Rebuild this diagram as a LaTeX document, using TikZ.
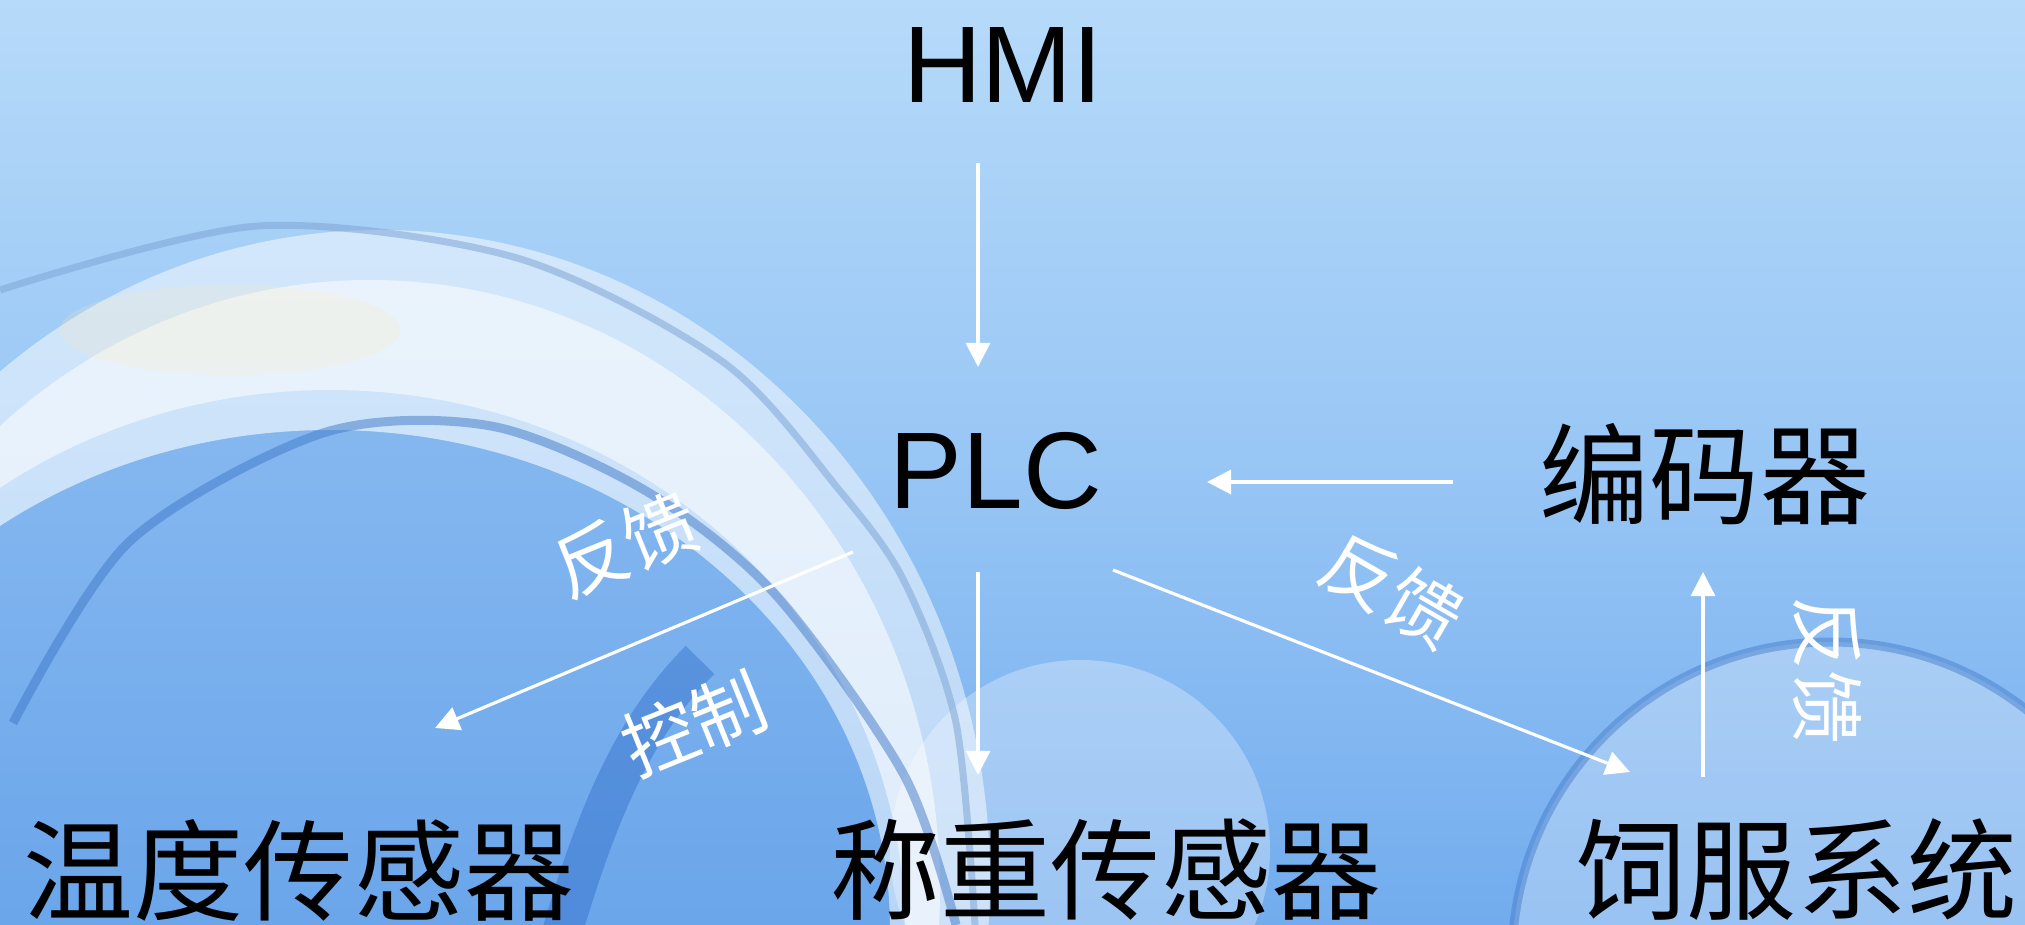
\documentclass[tikz,border=0pt]{standalone}
\usepackage{fontspec}
\setmainfont{Liberation Sans}
\newfontfamily\cjk{Noto Sans CJK SC}
\usetikzlibrary{arrows.meta}
\definecolor{bgtop}{HTML}{B6DAF9}
\definecolor{bgmid}{HTML}{98C6F5}
\definecolor{bgbot}{HTML}{72ACEE}
\definecolor{innerc}{HTML}{5E9BE6}
\definecolor{ringc}{HTML}{3F78C8}
\definecolor{deepc}{HTML}{1E5CC0}
\definecolor{edgec}{HTML}{7FA6D6}
\begin{document}
\begin{tikzpicture}[x=0.01cm,y=-0.01cm,
  lat/.style={font=\fontsize{31pt}{36pt}\selectfont, text=black, inner sep=0pt},
  big/.style={font=\cjk\fontsize{31.3pt}{36pt}\selectfont, text=black, inner sep=0pt},
  small/.style={font=\cjk\fontsize{21pt}{24pt}\selectfont, text=white, inner sep=0pt},
  link/.style={draw=white, line width=0.9pt, -{Triangle[length=0.24cm,width=0.24cm]}}]
\useasboundingbox (0,0) rectangle (2025,925);
% ---------- background ----------
\begin{scope}
\clip (0,0) rectangle (2025,925);
\shade[top color=bgtop, bottom color=bgbot, middle color=bgmid] (0,0) rectangle (2025,925);
% right bubble
\fill[white, opacity=0.28] (1830,960) circle[radius=318];
\draw[ringc, opacity=0.45, line width=0.09cm] (1830,960) circle[radius=318];
% bottom-centre light blob
\fill[white, opacity=0.3] (1080,850) ellipse[x radius=190, y radius=190];
% darker inside of the big bubble
\fill[innerc, opacity=0.35] (330,930) ellipse[x radius=560, y radius=500];
% big white band on the left
\fill[white, opacity=0.5, even odd rule] (380,880) ellipse[x radius=610, y radius=650] (330,930) ellipse[x radius=560, y radius=500];
\fill[white, opacity=0.55, even odd rule] (370,890) ellipse[x radius=570, y radius=610] (330,930) ellipse[x radius=575, y radius=540];
\fill[yellow!40!orange!25, opacity=0.2] (230,330) ellipse[x radius=170, y radius=45];
% ring lines
\draw[edgec, opacity=0.55, line width=0.07cm] plot[smooth] coordinates {(0,290) (258,226) (517,258) (723,362) (840,491) (904,581) (956,723) (975,925)};
\draw[ringc, opacity=0.5, line width=0.09cm] plot[smooth] coordinates {(13,723) (129,542) (323,433) (491,426) (646,491) (775,594) (904,775) (956,925)};
\draw[deepc, opacity=0.35, line width=0.4cm] (560,940) .. controls (600,800) and (640,720) .. (700,660);
\end{scope}
% ---------- nodes ----------
\node[lat] (hmi) at (1003,65) {HMI};
\node[lat] (plc) at (996,471) {PLC};
\node[big] (enc) at (1705,474) {编码器};
\node[big] (temp) at (299,870) {温度传感器};
\node[big] (weigh) at (1106,870) {称重传感器};
\node[big] (servo) at (1797,870) {饲服系统};
\node[small, rotate=22] (fb1) at (626,545) {反馈};
\node[small, rotate=22] (ctl) at (694,724) {控制};
\node[small, rotate=-30] (fb2) at (1392,590) {反馈};
\node[small, rotate=-90] (fb3) at (1827,670) {反馈};
% ---------- connector ends ----------
\coordinate (hmiOut) at (978,163);
\coordinate (plcIn) at (978,367);
\coordinate (encOut) at (1453,482);
\coordinate (plcInR) at (1207,482);
\coordinate (plcOutL) at (853,552);
\coordinate (tempIn) at (435,728);
\coordinate (plcOutD) at (978,572);
\coordinate (weighIn) at (978,775);
\coordinate (plcOutR) at (1113,570);
\coordinate (servoIn) at (1630,772);
\coordinate (servoOut) at (1703,777);
\coordinate (encIn) at (1703,572);
% ---------- connectors ----------
\draw[link] (hmiOut) -- (plcIn);
\draw[link] (encOut) -- (plcInR);
\draw[link] (plcOutL) -- (tempIn);
\draw[link] (plcOutD) -- (weighIn);
\draw[link] (plcOutR) -- (servoIn);
\draw[link] (servoOut) -- (encIn);
\end{tikzpicture}
\end{document}
